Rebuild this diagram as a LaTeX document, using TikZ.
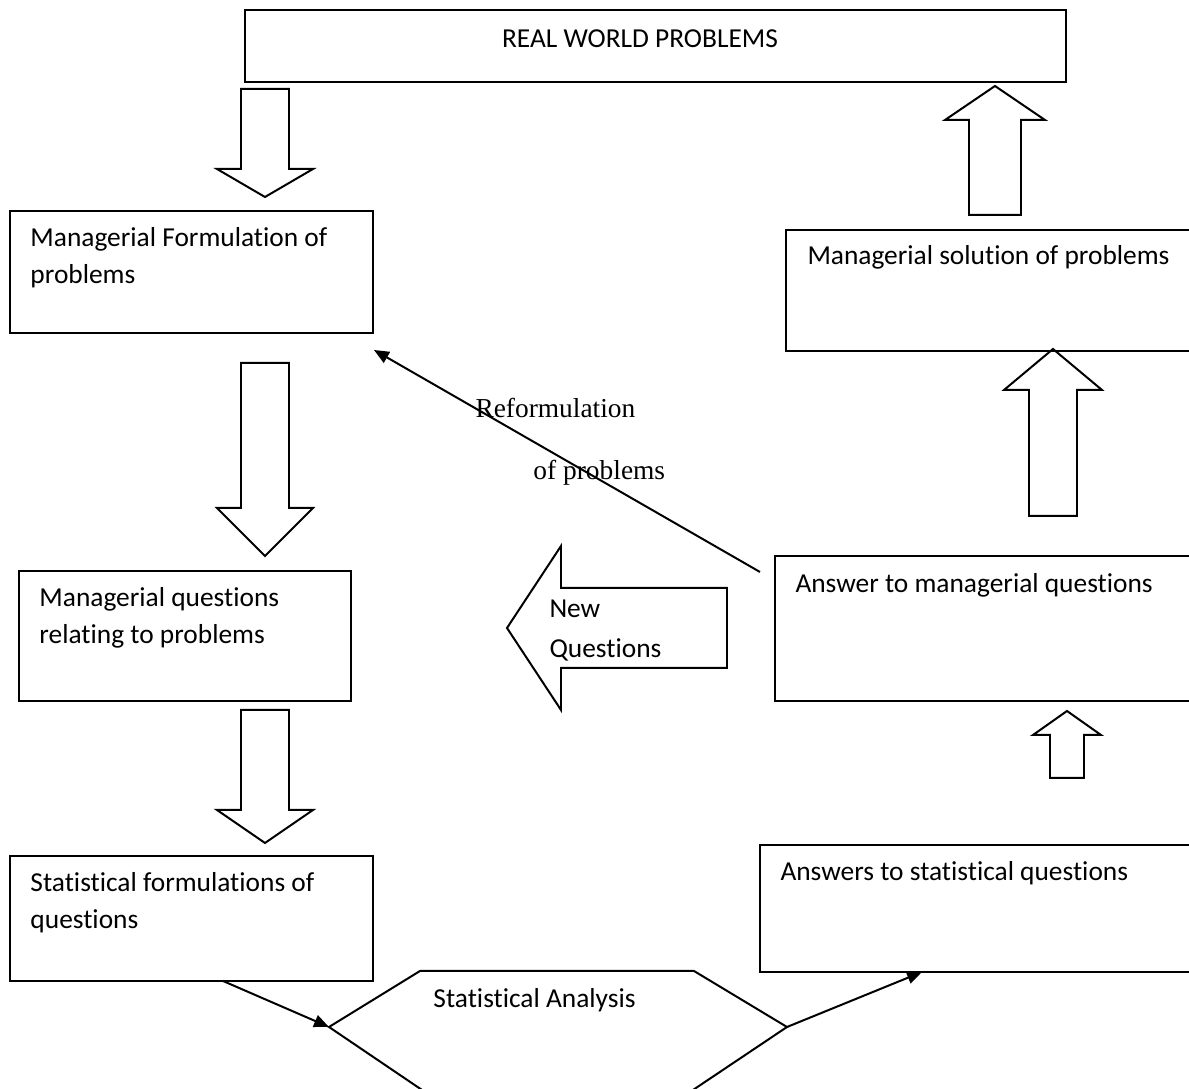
\documentclass[tikz,border=0pt]{standalone}
\usepackage{fontspec}
\setmainfont{Carlito}[Ligatures={NoCommon,NoContextual}]
\newfontfamily\serifrm{Liberation Serif}
\usetikzlibrary{arrows.meta, fit}

% vertical block arrow: centre x, tail y, head base y, tip y, half shaft, half head
\newcommand{\vblock}[6]{%
    \draw[blk] (#1-#5,#2) -- (#1-#5,#3) -- (#1-#6,#3) -- (#1,#4)
        -- (#1+#6,#3) -- (#1+#5,#3) -- (#1+#5,#2) -- cycle;}
% horizontal block arrow: centre y, tail x, head base x, tip x, half shaft, half head
\newcommand{\hblock}[6]{%
    \draw[blk] (#2,#1-#5) -- (#3,#1-#5) -- (#3,#1-#6) -- (#4,#1)
        -- (#3,#1+#6) -- (#3,#1+#5) -- (#2,#1+#5) -- cycle;}
% text lines, baseline on the first line
\newcommand{\toplines}[1]{\parbox[t]{6cm}{\raggedright #1}}

\begin{document}
\begin{tikzpicture}[
    x=0.4015pt, y=-0.4015pt,
    box/.style={draw, line width=0.8pt, inner sep=0pt},
    boxtext/.style={anchor=base west, inner sep=0pt,
        font=\fontsize{11}{14.6}\selectfont},
    blk/.style={draw, line width=0.8pt, line join=miter},
    link/.style={line width=0.8pt, -{Triangle[length=6pt, width=5pt]}}
]
    \path[use as bounding box, clip] (0,0) rectangle (1189,1089);

    % boxes
    \node[box, fit={(245,10) (1066,82)}] (real) {};
    \node[boxtext, anchor=base] (realtxt) at (640,48) {REAL WORLD PROBLEMS};

    \node[box, fit={(10,211) (373,333)}] (form) {};
    \node[boxtext] (formtxt) at (30,247) {\toplines{Managerial Formulation of\\problems}};
    \node[box, fit={(19,571) (351,701)}] (mq) {};
    \node[boxtext] (mqtxt) at (39,607) {\toplines{Managerial questions\\relating to problems}};
    \node[box, fit={(10,856) (373,981)}] (sf) {};
    \node[boxtext] (sftxt) at (30,892) {\toplines{Statistical formulations of\\questions}};

    \node[box, fit={(786,230) (1200,351)}] (sol) {};
    \node[boxtext] (soltxt) at (807,265) {Managerial solution of problems};
    \node[box, fit={(775,556) (1200,701)}] (am) {};
    \node[boxtext] (amtxt) at (795,593) {Answer to managerial questions};
    \node[box, fit={(760,845) (1200,972)}] (as) {};
    \node[boxtext] (astxt) at (780,881) {Answers to statistical questions};

    % block arrows
    \vblock{265}{89}{169}{197}{24}{48}
    \vblock{265}{363}{508}{556}{24}{48}
    \vblock{265}{710}{810}{843}{24}{48}
    \vblock{995}{215}{120}{86}{26}{50}
    \vblock{1053}{516}{390}{349}{24}{49}
    \vblock{1067}{778}{735}{711}{17}{34}
    \hblock{628}{727}{561}{507}{40}{82}
    \node[boxtext, font=\fontsize{11}{16}\selectfont] (nqtxt) at (549,618) {\toplines{New\\Questions}};

    % analysis hexagon
    \coordinate (h1) at (329,1027);
    \coordinate (h2) at (420,971);
    \coordinate (h3) at (694,971);
    \coordinate (h4) at (787,1027);
    \coordinate (h5) at (690,1092);
    \coordinate (h6) at (425,1092);
    \draw[blk] (h1) -- (h2) -- (h3) -- (h4) -- (h5) -- (h6) -- cycle;
    \node[boxtext] (satxt) at (433,1008) {Statistical Analysis};

    % connectors
    \coordinate (sfout) at (223,981);
    \coordinate (asin) at (922,972);
    \coordinate (amout) at (760,572);
    \coordinate (formin) at (374,350);
    \draw[link] (sfout) -- (h1);
    \draw[link] (h4) -- (asin);
    \draw[link] (amout) -- (formin);
    \node[anchor=base west, inner sep=0pt, font=\serifrm\fontsize{11}{14}\selectfont] (ref1) at (475,418) {Reformulation};
    \node[anchor=base west, inner sep=0pt, font=\serifrm\fontsize{11}{14}\selectfont] (ref2) at (533,480) {of problems};
\end{tikzpicture}
\end{document}
